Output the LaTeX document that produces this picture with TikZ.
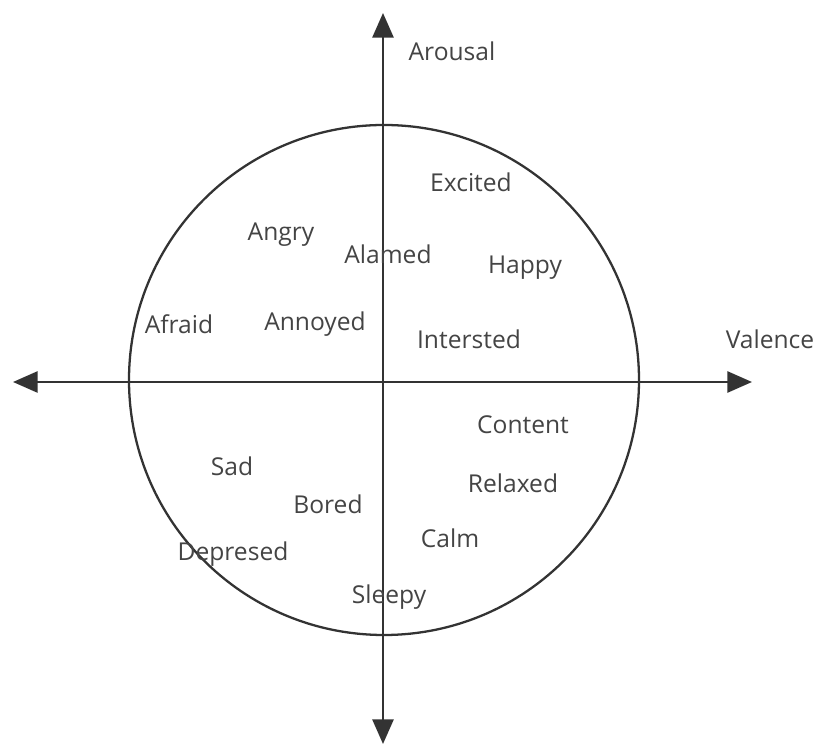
\documentclass[tikz,border=0pt]{standalone}
\usepackage{fontspec}
\setmainfont{Open Sans}
\usetikzlibrary{arrows.meta}
\definecolor{linegray}{HTML}{333333}
\definecolor{textgray}{HTML}{444444}
\tikzstyle{emotion} = [inner sep=0pt, text=textgray, font=\fontsize{14}{16}\selectfont]
\tikzstyle{axis} = [draw=linegray, line width=1.3pt, {Triangle[length=14pt, width=12pt]}-{Triangle[length=14pt, width=12pt]}]
\begin{document}
\begin{tikzpicture}[x=0.02cm, y=-0.02cm]
        \useasboundingbox (0,0) rectangle (819,749);

        % --- Ejes y circulo ---
        \coordinate (left) at (13,382);
        \coordinate (right) at (752,382);
        \coordinate (top) at (383,13);
        \coordinate (bottom) at (383,744);
        \coordinate (center) at (384,380);

        \draw [draw=linegray, line width=1.3pt] (center) circle [radius=255];
        \draw [axis] (left) -- (right);
        \draw [axis] (bottom) -- (top);

        % --- Etiquetas ---
        \node (arousal) [emotion] at (452,51) {Arousal};
        \node (valence) [emotion] at (770,339) {Valence};

        \node (excited) [emotion] at (471,182) {Excited};
        \node (angry) [emotion] at (281,235) {Angry};
        \node (alamed) [emotion] at (388,254) {Alamed};
        \node (happy) [emotion] at (525,268) {Happy};
        \node (afraid) [emotion] at (179,324) {Afraid};
        \node (annoyed) [emotion] at (315,324) {Annoyed};
        \node (intersted) [emotion] at (469,339) {Intersted};

        \node (content) [emotion] at (523,425) {Content};
        \node (sad) [emotion] at (232,466) {Sad};
        \node (relaxed) [emotion] at (513,483) {Relaxed};
        \node (bored) [emotion] at (328,504) {Bored};
        \node (calm) [emotion] at (450,538) {Calm};
        \node (depresed) [emotion] at (233,554) {Depresed};
        \node (sleepy) [emotion] at (389,597) {Sleepy};

    \end{tikzpicture}
\end{document}
